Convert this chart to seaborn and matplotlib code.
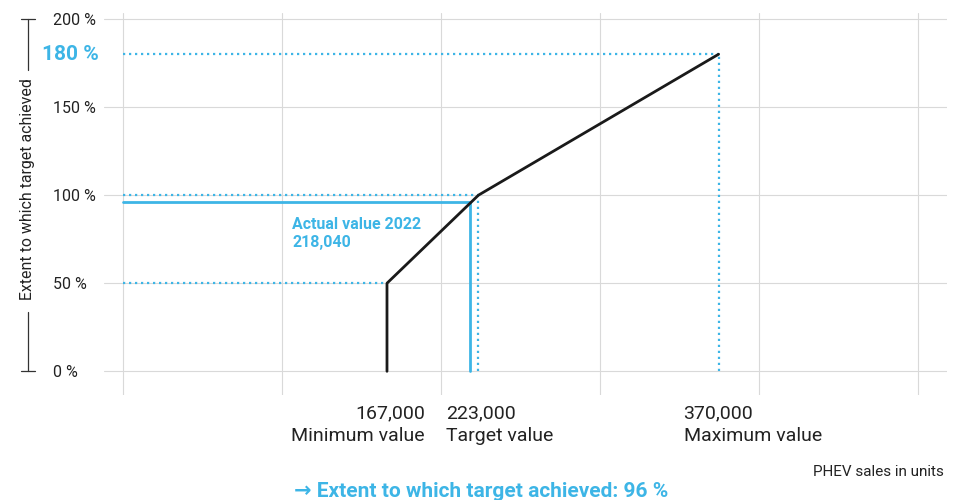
import numpy as np
import pandas as pd
import seaborn as sns
import matplotlib.pyplot as plt
from matplotlib.lines import Line2D

# data
sales_points = [167000, 167000, 223000, 370000]
achievement_points = [0, 50, 100, 180]
ref_values = [167000, 223000, 370000]
ref_pcts = [50, 100, 180]
ref_labels = ['Minimum value', 'Target value', 'Maximum value']
actual_value = 218040
actual_pct = 96
y_ticks = [0, 50, 100, 150, 200]

BLUE = '#3db5e6'
DARK = '#222222'
DOTS = (0, (1, 1.7))

sns.set_theme(style='whitegrid')
plt.rcParams['font.family'] = ['Roboto', 'DejaVu Sans']

fig = plt.figure(figsize=(9.64, 5), dpi=100)
ax = fig.add_axes([104 / 964, 105 / 500, 843 / 964, 382 / 500])

curve = pd.DataFrame({'sales': sales_points, 'pct': achievement_points})

# grid spacing is decorative, not tied to round values
grid_x = 5400 + 97300 * np.arange(6)
x0 = grid_x[0]

# dotted guide lines for min / target / max
for v, p in zip(ref_values, ref_pcts):
    ax.plot([x0, v], [p, p], color=BLUE, lw=1.6, ls=DOTS, zorder=2)
for v, p in zip(ref_values[1:], ref_pcts[1:]):
    ax.plot([v, v], [0, p], color=BLUE, lw=1.6, ls=DOTS, zorder=2)

# actual value lines
ax.plot([x0, actual_value], [actual_pct, actual_pct], color=BLUE, lw=2, zorder=3)
ax.plot([actual_value, actual_value], [0, actual_pct], color=BLUE, lw=2, zorder=3)

sns.lineplot(data=curve, x='sales', y='pct', sort=False, estimator=None,
             color='#1a1a1a', lw=2, ax=ax, zorder=4)

ax.set_xlim(-6230, 509800)
ax.set_ylim(-13.45, 203.4)
ax.set_xticks(grid_x)
ax.set_xticklabels([])
ax.set_yticks(y_ticks)
ax.set_yticklabels([f'{t} %' for t in y_ticks], fontsize=11.5, color=DARK)
for lbl in ax.get_yticklabels():
    lbl.set_horizontalalignment('left')
ax.tick_params(axis='both', length=0)
ax.tick_params(axis='y', pad=36.7)
ax.grid(True, color='#d9d9d9', lw=0.8)
for s in ax.spines.values():
    s.set_visible(False)
ax.set_xlabel('')
ax.set_ylabel('')

# 180 % label
ax.annotate(f'{ref_pcts[-1]} %', xy=(0, ref_pcts[-1]), xycoords=('axes fraction', 'data'),
            xytext=(-5, 0), textcoords='offset pixels', ha='right', va='center',
            color=BLUE, fontsize=15, fontweight='bold', annotation_clip=False)

# x labels below axis
offsets = [(38, 'right'), (-32, 'left'), (-35, 'left')]
for v, lab, (dx, ha) in zip(ref_values, ref_labels, offsets):
    ax.annotate(f'{v:,}', xy=(v, 0), xytext=(dx, -47), textcoords='offset pixels',
                ha=ha, va='baseline', fontsize=14, color=DARK, annotation_clip=False)
    ax.annotate(lab, xy=(v, 0), xytext=(dx, -70), textcoords='offset pixels',
                ha=ha, va='baseline', fontsize=14, color=DARK, annotation_clip=False)

ax.annotate(f'Actual value 2022\n{actual_value:,}', xy=(actual_value, actual_pct),
            xytext=(-178, -15), textcoords='offset pixels', ha='left', va='top',
            color=BLUE, fontsize=11.5, fontweight='bold', linespacing=1.2)

# y label with bracket
fig.text(28 / 964, 1 - 189.5 / 500, 'Extent to which target achieved', rotation=90,
         ha='center', va='center', fontsize=11.4, color=DARK)
bx = 28 / 964
for xs, ys in [([bx, bx], [19, 70]), ([21 / 964, 35 / 964], [19, 19]),
               ([bx, bx], [312, 371]), ([21 / 964, 35 / 964], [371, 371])]:
    fig.add_artist(Line2D(xs, [1 - y / 500 for y in ys], transform=fig.transFigure,
                          color='#333333', lw=0.9))

fig.text(944 / 964, 24 / 500, 'PHEV sales in units', ha='right', va='baseline',
         fontsize=11, color=DARK)
fig.text(481.5 / 964, 3 / 500, f'\u2192 Extent to which target achieved: {actual_pct} %',
         ha='center', va='baseline', fontsize=15, fontweight='bold', color=BLUE)

plt.savefig('out.png', dpi=100)
